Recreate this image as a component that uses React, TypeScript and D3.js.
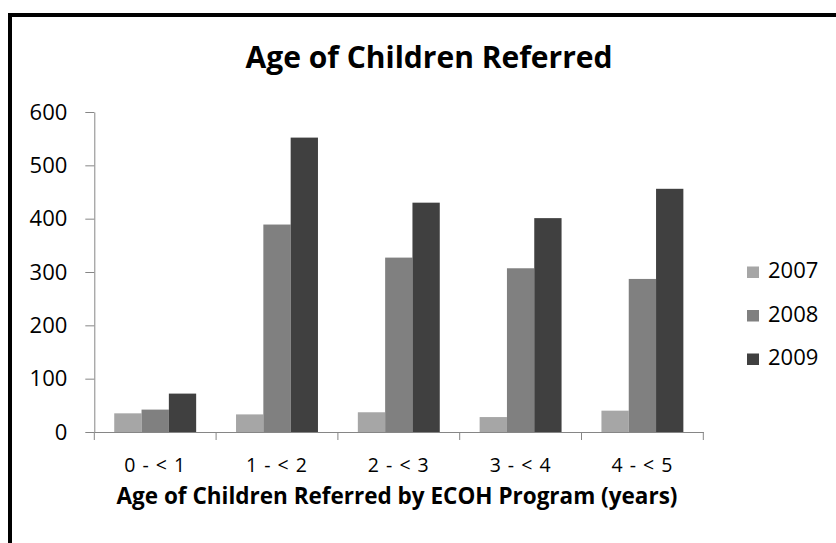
import React, { useEffect, useRef } from "react";
import * as d3 from "d3";

// data
const categories = ["0 - < 1", "1 - < 2", "2 - < 3", "3 - < 4", "4 - < 5"];
const seriesNames = ["2007", "2008", "2009"];
const values2007 = [35, 33, 37, 28, 40];
const values2008 = [42, 389, 327, 307, 287];
const values2009 = [72, 552, 430, 401, 456];
const yTicks = [0, 100, 200, 300, 400, 500, 600];
const colors = ["#a6a6a6", "#808080", "#404040"];

const W = 836,
  H = 543;
const plot = { left: 94.3, right: 703.3, top: 112, bottom: 432 };
const font = "'Open Sans', sans-serif";

export default function App() {
  const ref = useRef<SVGSVGElement>(null);

  useEffect(() => {
    const svg = d3.select(ref.current);
    svg.selectAll("*").remove();

    const series = [values2007, values2008, values2009];

    // outer frame (cut off at right and bottom like the original)
    svg
      .append("path")
      .attr("d", `M10,${H + 10} L10,15 L${W + 10},15`)
      .attr("fill", "none")
      .attr("stroke", "#000")
      .attr("stroke-width", 4);

    const x0 = d3
      .scaleBand()
      .domain(categories)
      .range([plot.left, plot.right])
      .paddingInner(0)
      .paddingOuter(0);

    const x1 = d3
      .scaleBand()
      .domain(seriesNames)
      .range([0, x0.bandwidth()])
      .paddingInner(0)
      .paddingOuter(0.73);

    const y = d3.scaleLinear().domain([0, 600]).range([plot.bottom, plot.top]);

    // bars
    seriesNames.forEach((name, si) => {
      svg
        .append("g")
        .selectAll("rect")
        .data(series[si])
        .enter()
        .append("rect")
        .attr("x", (d, i) => x0(categories[i])! + x1(name)!)
        .attr("width", x1.bandwidth())
        .attr("y", (d) => y(d))
        .attr("height", (d) => y(0) - y(d))
        .attr("fill", colors[si]);
    });

    // y axis
    const yAxis = svg
      .append("g")
      .attr("transform", `translate(${plot.left},0)`)
      .call(d3.axisLeft(y).tickValues(yTicks).tickSize(9).tickPadding(18).tickSizeOuter(0));
    yAxis.select(".domain").attr("stroke", "#868686");
    yAxis.selectAll(".tick line").attr("stroke", "#868686");
    yAxis
      .selectAll(".tick text")
      .attr("font-family", font)
      .attr("font-size", 22)
      .attr("fill", "#000");

    // x axis: labels at centers, tick marks at category boundaries
    const xAxis = svg
      .append("g")
      .attr("transform", `translate(0,${plot.bottom})`)
      .call(d3.axisBottom(x0).tickSize(0).tickPadding(26).tickSizeOuter(0));
    xAxis.select(".domain").attr("stroke", "#868686");
    xAxis
      .selectAll(".tick text")
      .attr("font-family", font)
      .attr("font-size", 19.5)
      .attr("letter-spacing", 1)
      .attr("fill", "#000");

    const bounds = categories.map((c) => x0(c)!).concat([plot.right]);
    svg
      .append("g")
      .selectAll("line")
      .data(bounds)
      .enter()
      .append("line")
      .attr("x1", (d) => d)
      .attr("x2", (d) => d)
      .attr("y1", plot.bottom)
      .attr("y2", plot.bottom + 8)
      .attr("stroke", "#868686");

    // title
    svg
      .append("text")
      .attr("x", 429)
      .attr("y", 68)
      .attr("text-anchor", "middle")
      .attr("font-family", font)
      .attr("font-weight", "bold")
      .attr("font-size", 30)
      .text("Age of Children Referred");

    // x axis title
    svg
      .append("text")
      .attr("x", 397)
      .attr("y", 503.5)
      .attr("text-anchor", "middle")
      .attr("font-family", font)
      .attr("font-weight", "bold")
      .attr("font-size", 22.5)
      .text("Age of Children Referred by ECOH Program (years)");

    // legend
    const legend = svg
      .append("g")
      .selectAll("g")
      .data(seriesNames)
      .enter()
      .append("g")
      .attr("transform", (d, i) => `translate(747,${266.5 + i * 43.5})`);
    legend
      .append("rect")
      .attr("width", 12)
      .attr("height", 11.5)
      .attr("fill", (d, i) => colors[i]);
    legend
      .append("text")
      .attr("x", 21)
      .attr("y", 11.5)
      .attr("font-family", font)
      .attr("font-size", 22)
      .text((d) => d);
  }, []);

  return (
    <svg
      ref={ref}
      width={W}
      height={H}
      style={{ position: "absolute", left: 0, top: 0, background: "#fff" }}
    />
  );
}
